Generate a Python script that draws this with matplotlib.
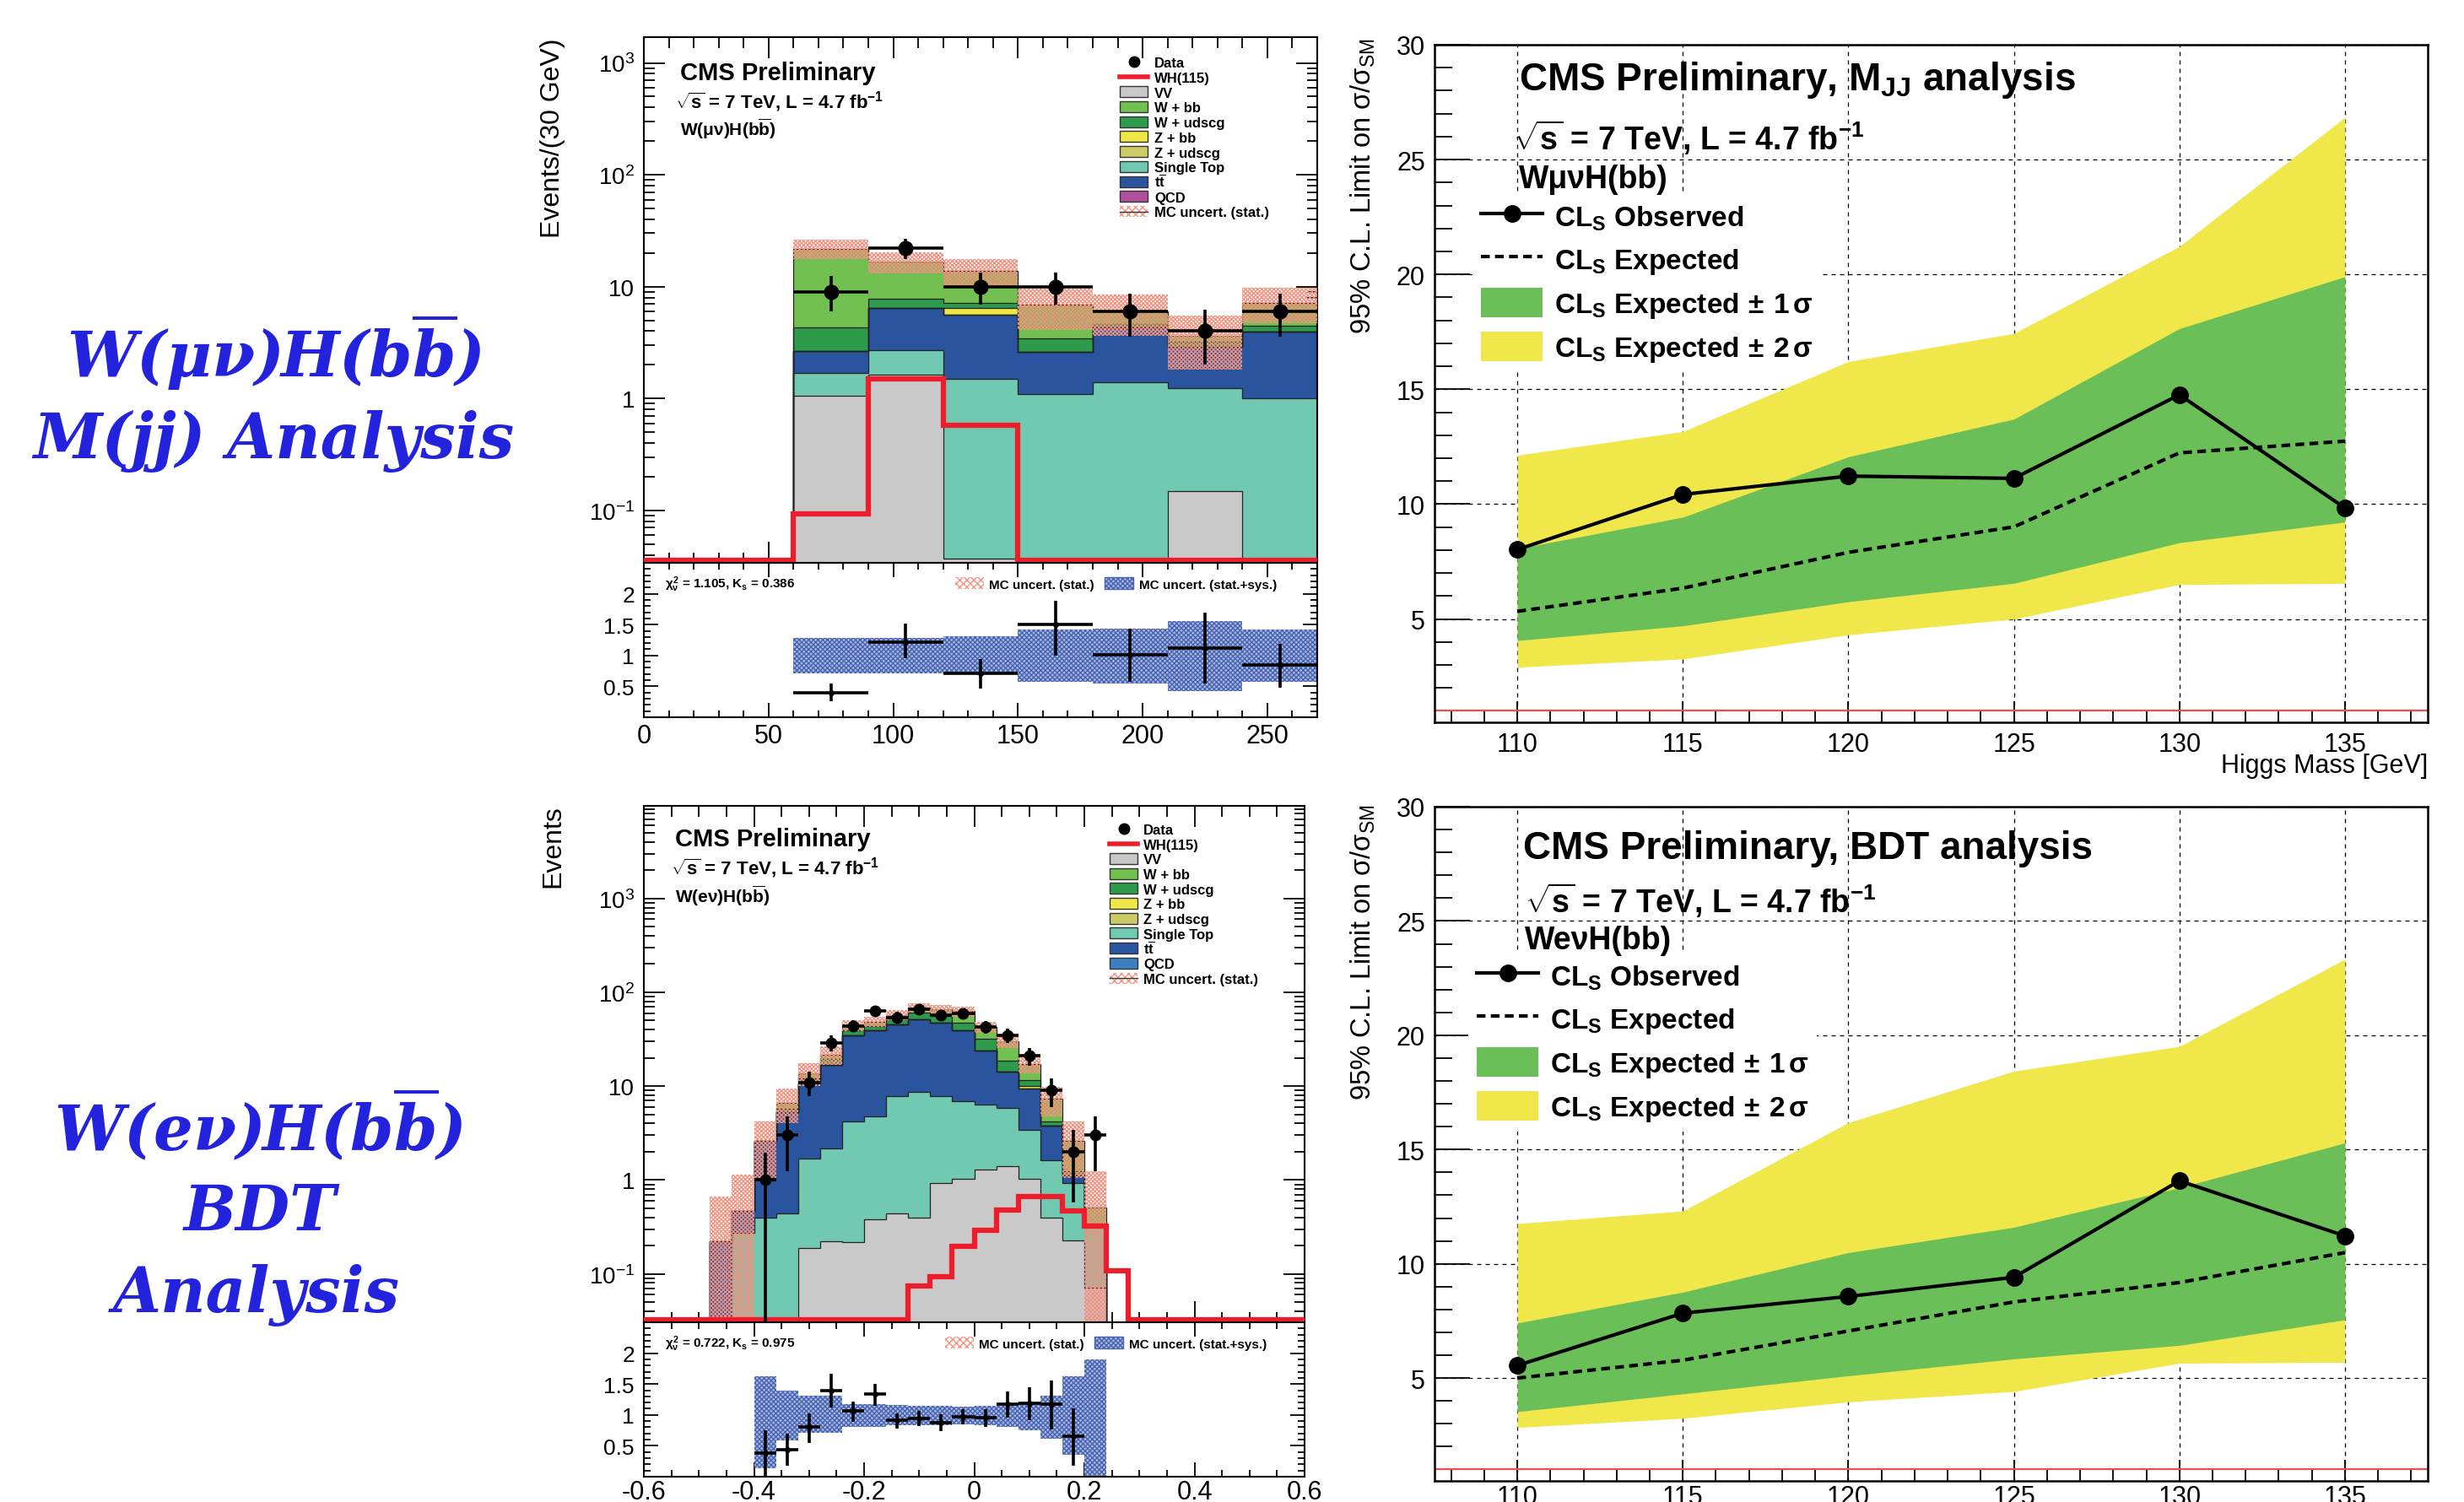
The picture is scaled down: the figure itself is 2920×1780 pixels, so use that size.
import numpy as np
import matplotlib
matplotlib.use("Agg")
import matplotlib.pyplot as plt
from matplotlib.patches import Patch, Rectangle
from matplotlib.lines import Line2D
from matplotlib.ticker import (FixedLocator, MultipleLocator, LogLocator,
                               NullFormatter, FuncFormatter)

# ======================= DATA =======================
# ---- top-left: W(mu nu)H(bb), M(jj) distribution ----
mjj_edges = [0, 30, 60, 90, 120, 150, 180, 210, 240, 270]
mjj_vv  = [0, 0, 1.06, 1.64, 0.037, 0.037, 0.0, 0.148, 0.0]
mjj_st  = [0, 0, 0.63, 1.07, 1.45, 1.06, 1.41, 1.10, 1.00]
mjj_tt  = [0, 0, 0.96, 3.72, 4.13, 1.51, 2.94, 1.67, 2.95]
mjj_qcd = [0, 0, 0, 0, 0, 0, 0, 0, 0]
mjj_zud = [0, 0, 0, 0, 0, 0, 0, 0, 0]
mjj_zbb = [0, 0, 0, 0, 0.80, 0, 0, 0, 0]
mjj_wud = [0, 0, 1.67, 1.32, 0.76, 0.86, 0.30, 0.30, 0.53]
mjj_wbb = [0, 0, 17.6, 8.95, 6.6, 3.43, 1.40, 0.44, 2.72]
mjj_wh  = [0, 0, 0.093, 1.49, 0.574, 0, 0, 0, 0]
mjj_mcstat_rel = [0, 0, 0.20, 0.22, 0.28, 0.40, 0.40, 0.50, 0.35]
mjj_data_x  = [75, 105, 135, 165, 195, 225, 255]
mjj_data    = [9, 22, 10, 10, 6, 4, 6]
mjj_data_lo = [3.0, 4.5, 3.1, 3.1, 2.4, 2.0, 2.4]
mjj_data_hi = [3.4, 4.7, 3.3, 3.3, 2.6, 2.2, 2.6]
mjj_halfwidth = 15
mjj_ratio    = [0.40, 1.22, 0.71, 1.50, 1.01, 1.125, 0.85]
mjj_ratio_lo = [0.14, 0.27, 0.25, 0.50, 0.44, 0.585, 0.37]
mjj_ratio_hi = [0.15, 0.30, 0.23, 0.39, 0.42, 0.565, 0.34]
mjj_band_edges = [60, 90, 120, 150, 180, 210, 240, 270]
mjj_band_up = [1.28, 1.28, 1.31, 1.42, 1.43, 1.56, 1.42]
mjj_band_dn = [0.71, 0.71, 0.71, 0.57, 0.55, 0.43, 0.57]
mjj_xticks = [0, 50, 100, 150, 200, 250]

# ---- bottom-left: W(e nu)H(bb), BDT distribution (30 bins of 0.04) ----
bdt_edges = [-0.60, -0.56, -0.52, -0.48, -0.44, -0.40, -0.36, -0.32, -0.28,
             -0.24, -0.20, -0.16, -0.12, -0.08, -0.04, 0.00, 0.04, 0.08,
             0.12, 0.16, 0.20, 0.24, 0.28, 0.32, 0.36, 0.40, 0.44, 0.48,
             0.52, 0.56, 0.60]
bdt_vv  = [0, 0, 0, 0, 0, 0, 0, 0.188, 0.222, 0.217, 0.378, 0.44, 0.40, 0.935,
           1.03, 1.29, 1.40, 1.03, 0.395, 0.228, 0.071, 0, 0, 0, 0, 0, 0, 0, 0, 0]
bdt_st  = [0, 0, 0, 0, 0.275, 0.40, 0.44, 1.50, 1.96, 3.98, 4.39, 7.46, 8.2,
           6.97, 5.95, 5.11, 4.5, 2.37, 1.225, 0.707, 0.262, 0, 0, 0, 0, 0, 0, 0, 0, 0]
bdt_tt  = [0, 0, 0, 0.222, 0.193, 2.24, 4.84, 9.0, 14.7, 30.5, 34.6, 37.6, 43.3,
           39.6, 32.4, 17.8, 8.4, 6.0, 2.15, 0.195, 0, 0, 0, 0, 0, 0, 0, 0, 0, 0]
bdt_qcd = [0] * 30
bdt_zud = [0] * 30
bdt_zbb = [0, 0, 0, 0, 0, 0, 0, 0, 0, 0, 0, 0, 0, 0, 0, 0, 0, 0.6, 0, 0,
           0, 0, 0, 0, 0, 0, 0, 0, 0, 0]
bdt_wud = [0, 0, 0, 0, 0, 0, 0.42, 1.4, 2.4, 4.9, 4.3, 6.4, 8.3, 8.8, 8.1,
           7.7, 4.5, 1.6, 0.43, 0.10, 0, 0, 0, 0, 0, 0, 0, 0, 0, 0]
bdt_wbb = [0, 0, 0, 0, 0, 0, 1.0, 1.6, 2.5, 5.0, 5.2, 5.7, 8.2, 9.3, 15.3,
           11.0, 11.2, 5.6, 3.1, 1.41, 0.18, 0, 0, 0, 0, 0, 0, 0, 0, 0]
bdt_wh  = [0, 0, 0, 0, 0, 0, 0, 0, 0, 0, 0, 0, 0.075, 0.094, 0.196, 0.289,
           0.48, 0.67, 0.67, 0.468, 0.32, 0.108, 0, 0, 0, 0, 0, 0, 0, 0]
bdt_mcstat_rel = [0, 0, 0, 2.0, 1.45, 0.6, 0.4, 0.27, 0.22, 0.13, 0.12, 0.12,
                  0.12, 0.12, 0.12, 0.13, 0.15, 0.2, 0.35, 0.6, 1.4, 0, 0, 0,
                  0, 0, 0, 0, 0, 0]
bdt_data_x  = [-0.38, -0.34, -0.30, -0.26, -0.22, -0.18, -0.14, -0.10, -0.06,
               -0.02, 0.02, 0.06, 0.10, 0.14, 0.18, 0.22]
bdt_data    = [1, 3, 11, 29, 44, 64, 54, 66, 57, 60, 43, 35, 21, 9, 2, 3]
bdt_data_lo = [1.0, 1.77, 3.2, 5.3, 6.6, 8.0, 7.3, 8.1, 7.5, 7.7, 6.5, 5.9, 4.5, 3.0, 1.42, 1.77]
bdt_data_hi = [0.97, 1.77, 3.4, 5.5, 6.8, 8.2, 7.5, 8.3, 7.7, 7.9, 6.7, 6.1, 4.7, 3.1, 1.4, 1.77]
bdt_halfwidth = 0.02
bdt_ratio_x  = [-0.38, -0.34, -0.30, -0.26, -0.22, -0.18, -0.14, -0.10, -0.06,
                -0.02, 0.02, 0.06, 0.10, 0.14, 0.18]
bdt_ratio    = [0.38, 0.44, 0.80, 1.39, 1.06, 1.34, 0.92, 0.94, 0.87, 0.97, 0.95,
                1.17, 1.19, 1.17, 0.65]
bdt_ratio_lo = [0.38, 0.26, 0.26, 0.27, 0.17, 0.19, 0.14, 0.12, 0.13, 0.12, 0.14,
                0.22, 0.28, 0.40, 0.47]
bdt_ratio_hi = [0.37, 0.25, 0.22, 0.27, 0.16, 0.16, 0.11, 0.12, 0.14, 0.12, 0.14,
                0.21, 0.26, 0.39, 0.45]
bdt_band_edges = [-0.40, -0.36, -0.32, -0.28, -0.24, -0.20, -0.16, -0.12, -0.08,
                  -0.04, 0.00, 0.04, 0.08, 0.12, 0.16, 0.20, 0.24]
bdt_band_up = [1.63, 1.40, 1.31, 1.31, 1.17, 1.17, 1.16, 1.15, 1.15, 1.14, 1.15,
               1.18, 1.22, 1.31, 1.63, 1.90]
bdt_band_dn = [0.13, 0.59, 0.71, 0.71, 0.80, 0.80, 0.83, 0.84, 0.84, 0.85, 0.84,
               0.80, 0.75, 0.62, 0.36, 0.0]
bdt_xticks = [-0.6, -0.4, -0.2, 0.0, 0.2, 0.4, 0.6]
bdt_xticklabels = ["-0.6", "-0.4", "-0.2", "0", "0.2", "0.4", "0.6"]

# ---- limits ----
higgs_mass = [110, 115, 120, 125, 130, 135]
mjj_obs = [8.02, 10.42, 11.22, 11.12, 14.76, 9.83]
mjj_exp = [5.33, 6.34, 7.90, 9.01, 12.23, 12.74]
mjj_p1  = [8.06, 9.43, 12.06, 13.70, 17.64, 19.90]
mjj_m1  = [4.06, 4.70, 5.75, 6.55, 8.32, 9.22]
mjj_p2  = [12.13, 13.16, 16.21, 17.43, 21.22, 26.84]
mjj_m2  = [2.90, 3.26, 4.31, 5.00, 6.50, 6.55]
bdt_obs = [5.55, 7.84, 8.57, 9.41, 13.63, 11.22]
bdt_exp = [5.00, 5.78, 7.06, 8.33, 9.18, 10.49]
bdt_p1  = [7.41, 8.76, 10.49, 11.60, 13.33, 15.29]
bdt_m1  = [3.53, 4.31, 5.10, 5.84, 6.43, 7.55]
bdt_p2  = [11.76, 12.31, 16.18, 18.43, 19.51, 23.33]
bdt_m2  = [2.84, 3.24, 3.96, 4.41, 5.65, 5.69]
sm_reference = 1.0

stack_labels = ["Data", "WH(115)", "VV", "W + bb", "W + udscg", "Z + bb",
                "Z + udscg", "Single Top", r"t$\overline{\mathrm{t}}$", "QCD",
                "MC uncert. (stat.)"]
limit_labels = [r"CL$_{\mathrm{S}}$ Observed", r"CL$_{\mathrm{S}}$ Expected",
                r"CL$_{\mathrm{S}}$ Expected$\,\pm\,$1$\,\sigma$",
                r"CL$_{\mathrm{S}}$ Expected$\,\pm\,$2$\,\sigma$"]

# ======================= STYLE =======================
plt.rcParams['font.family'] = ['Liberation Sans', 'DejaVu Sans']
plt.rcParams['mathtext.fontset'] = 'custom'
plt.rcParams['mathtext.rm'] = 'Liberation Sans:bold'
plt.rcParams['mathtext.bf'] = 'Liberation Sans:bold'
plt.rcParams['mathtext.it'] = 'Liberation Sans:bold'
plt.rcParams['mathtext.tt'] = 'Liberation Sans'
plt.rcParams['mathtext.sf'] = 'DejaVu Serif:italic:bold'
plt.rcParams['hatch.linewidth'] = 1.0

C_VV, C_WBB, C_WUD = '#c9c9c9', '#72bf52', '#2e9a4c'
C_ZBB, C_ZUD, C_ST = '#eee746', '#cccc66', '#70c9b0'
C_TT, C_QCD1, C_QCD2 = '#2a559e', '#b04fa0', '#3d80c0'
C_WH, C_HATCH = '#ee1d2b', '#f2917f'
C_BAND_FACE, C_BAND_HATCH = '#a9b9e3', '#4763b0'
C_GREEN, C_YELLOW = '#6bbf59', '#f0e74a'
BLUE = '#2323dd'

W, H, DPI = 2920, 1781, 100
fig = plt.figure(figsize=(W / DPI, H / DPI), dpi=DPI)
fig.patch.set_facecolor('white')


def rect(l, t, r, b):
    return [l / W, 1 - b / H, (r - l) / W, (b - t) / H]


def fx(x):
    return x / W


def fy(y):
    return 1 - y / H


log_labels = {0.1: r'10$^{\mathtt{-1}}$', 1: '1', 10: '10',
              100: r'10$^{\mathtt{2}}$', 1000: r'10$^{\mathtt{3}}$'}


def style_hist_axes(ax, ylim, xlim, xmaj, xmin):
    ax.set_yscale('log')
    ax.set_ylim(*ylim)
    ax.set_xlim(*xlim)
    ax.yaxis.set_major_locator(FixedLocator([0.1, 1, 10, 100, 1000]))
    ax.yaxis.set_major_formatter(FuncFormatter(
        lambda v, p: min(log_labels.items(), key=lambda kv: abs(np.log10(kv[0]) - np.log10(v)))[1]))
    ax.yaxis.set_minor_locator(LogLocator(base=10, subs=np.arange(2, 10), numticks=30))
    ax.yaxis.set_minor_formatter(NullFormatter())
    ax.xaxis.set_major_locator(xmaj)
    ax.xaxis.set_minor_locator(xmin)
    ax.tick_params(which='both', direction='in', top=True, right=True, width=1.3,
                   labelbottom=False, labelsize=20, pad=8)
    ax.tick_params(which='major', length=18)
    ax.tick_params(which='minor', length=9)
    for s in ax.spines.values():
        s.set_linewidth(1.5)


def draw_stack(ax, edges, comps, colors, wh, rel, dx, dy, dlo, dhi, halfw, floor, ms):
    edges = np.asarray(edges, float)
    nb = len(edges) - 1
    low = floor * 0.3
    cum = np.zeros(nb)
    for vals, col in zip(comps, colors):
        new = cum + np.asarray(vals, float)
        ax.stairs(np.maximum(new, low), edges, baseline=np.maximum(cum, low),
                  fill=True, facecolor=col, edgecolor='none', lw=0, zorder=2)
        cum = new
    cum = np.zeros(nb)
    for vals in comps:
        cum = cum + np.asarray(vals, float)
        ax.stairs(np.maximum(cum, low), edges, baseline=None, color='#222222',
                  lw=0.9, zorder=3)
    total = cum
    relv = np.asarray(rel, float)
    ax.stairs(np.maximum(total * (1 + relv), low), edges,
              baseline=np.maximum(total * (1 - relv), low), fill=True,
              facecolor='none', edgecolor=C_HATCH, hatch='xxxxxxx', lw=0, zorder=4)
    whv = np.asarray(wh, float)
    ax.stairs(np.where(whv > 0, whv, floor * 1.06), edges, baseline=None,
              color=C_WH, lw=4.5, zorder=5, clip_on=False)
    ax.errorbar(dx, dy, xerr=halfw, yerr=[dlo, dhi], fmt='o', color='k',
                ms=ms, elinewidth=2.6, capsize=0, zorder=6)


def style_ratio_axes(ax, xlim, xmin, xt, xtl):
    ax.set_ylim(0, 2.5)
    ax.set_xlim(*xlim)
    ax.yaxis.set_major_locator(FixedLocator([0.5, 1, 1.5, 2]))
    ax.yaxis.set_major_formatter(FuncFormatter(lambda v, p: '%g' % v))
    ax.yaxis.set_minor_locator(MultipleLocator(0.1))
    ax.xaxis.set_major_locator(FixedLocator(xt))
    ax.xaxis.set_major_formatter(FuncFormatter(
        lambda v, p: xtl[int(np.argmin(np.abs(np.asarray(xt) - v)))]))
    ax.xaxis.set_minor_locator(xmin)
    ax.tick_params(which='both', direction='in', top=True, right=True, width=1.3)
    ax.tick_params(which='major', length=12)
    ax.tick_params(which='minor', length=6)
    ax.tick_params(axis='y', labelsize=19, pad=8)
    ax.tick_params(axis='x', labelsize=22, pad=5)
    for s in ax.spines.values():
        s.set_linewidth(1.5)


def draw_ratio(ax, bedges, up, dn, rx, ry, rlo, rhi, halfw):
    ax.stairs(up, bedges, baseline=dn, fill=True, facecolor=C_BAND_FACE,
              edgecolor=C_BAND_HATCH, hatch='xxxxxx', lw=0, zorder=2)
    ax.errorbar(rx, ry, xerr=halfw, yerr=[rlo, rhi], fmt='o', color='k', ms=4,
                elinewidth=2.6, capsize=0, zorder=6)


def hist_legend(x_box, y_first, dy, x_text, qcd_color, fs=12):
    """Legend drawn entry by entry at fixed pixel spacing (ROOT TLegend style)."""
    bw, bh = 33, 13
    fs_px = fs * DPI / 72.0
    fills = [None, None, C_VV, C_WBB, C_WUD, C_ZBB, C_ZUD, C_ST, C_TT, qcd_color, None]
    for i, lab in enumerate(stack_labels):
        yc = y_first + i * dy
        if i == 0:
            fig.add_artist(Line2D([fx(x_box + bw / 2)], [fy(yc)], marker='o', ms=9,
                                  color='k', transform=fig.transFigure))
        elif i == 1:
            fig.add_artist(Line2D([fx(x_box), fx(x_box + bw)], [fy(yc), fy(yc)],
                                  color=C_WH, lw=4, transform=fig.transFigure))
        elif i == len(stack_labels) - 1:
            fig.add_artist(Rectangle((fx(x_box), fy(yc + bh / 2)), bw / W, bh / H,
                                     facecolor='none', edgecolor=C_HATCH, hatch='xxxx',
                                     lw=0, transform=fig.transFigure))
            fig.add_artist(Line2D([fx(x_box), fx(x_box + bw)], [fy(yc), fy(yc)],
                                  color='#333333', lw=1, transform=fig.transFigure))
        else:
            fig.add_artist(Rectangle((fx(x_box), fy(yc + bh / 2)), bw / W, bh / H,
                                     facecolor=fills[i], edgecolor='#333333', lw=1,
                                     transform=fig.transFigure))
        fig.text(fx(x_text), fy(yc + 0.36 * fs_px), lab, fontsize=fs,
                 fontweight='bold', va='baseline')


def ratio_legend(x, y):
    handles = [Patch(facecolor='white', edgecolor=C_HATCH, hatch='xxxx', lw=0),
               Patch(facecolor=C_BAND_FACE, edgecolor=C_BAND_HATCH, hatch='xxxxxx', lw=1)]
    fig.legend(handles, ['MC uncert. (stat.)', 'MC uncert. (stat.+sys.)'], ncol=2,
               loc='center left', bbox_to_anchor=(fx(x), fy(y)), frameon=False,
               prop={'weight': 'bold', 'size': 11}, handlelength=2.2,
               handleheight=1.0, handletextpad=0.45, columnspacing=0.8,
               borderpad=0, borderaxespad=0)


# ======================= TOP-LEFT =======================
ax1 = fig.add_axes(rect(763, 45, 1561, 668))
style_hist_axes(ax1, (0.034, 1700), (0, 270), MultipleLocator(50), MultipleLocator(10))
draw_stack(ax1, mjj_edges,
           [mjj_vv, mjj_st, mjj_tt, mjj_qcd, mjj_zud, mjj_zbb, mjj_wud, mjj_wbb],
           [C_VV, C_ST, C_TT, C_QCD1, C_ZUD, C_ZBB, C_WUD, C_WBB],
           mjj_wh, mjj_mcstat_rel, mjj_data_x, mjj_data, mjj_data_lo, mjj_data_hi,
           mjj_halfwidth, 0.034, 12)
ax1r = fig.add_axes(rect(763, 668, 1561, 851))
style_ratio_axes(ax1r, (0, 270), MultipleLocator(10), mjj_xticks,
                 [str(v) for v in mjj_xticks])
draw_ratio(ax1r, mjj_band_edges, mjj_band_up, mjj_band_dn, mjj_data_x, mjj_ratio,
           mjj_ratio_lo, mjj_ratio_hi, mjj_halfwidth)

fig.text(fx(806), fy(95), 'CMS Preliminary', fontsize=21, fontweight='bold', va='baseline')
fig.text(fx(800), fy(128), r'$\sqrt{\mathrm{s}}$ = 7 TeV, L = 4.7 fb$^{\mathrm{-1}}$',
         fontsize=16, fontweight='bold', va='baseline')
fig.text(fx(806), fy(161), r'W(μν)H(b$\overline{\mathrm{b}}$)', fontsize=15,
         fontweight='bold', va='baseline')
fig.text(fx(655), fy(46), 'Events/(30 GeV)', rotation=90, ha='center', va='top', fontsize=23)
hist_legend(1327, 74, 17.75, 1368, C_QCD1)
fig.text(fx(788), fy(697), r'$\chi^{2}_{\nu}$ = 1.105, K$_{\mathrm{s}}$ = 0.386',
         fontsize=11, fontweight='bold', va='baseline')
ratio_legend(1132, 693)

# ======================= BOTTOM-LEFT =======================
ax2 = fig.add_axes(rect(763, 956, 1546, 1568))
style_hist_axes(ax2, (0.0305, 9700), (-0.6, 0.6), FixedLocator(bdt_xticks), MultipleLocator(0.05))
draw_stack(ax2, bdt_edges,
           [bdt_vv, bdt_st, bdt_tt, bdt_qcd, bdt_zud, bdt_zbb, bdt_wud, bdt_wbb],
           [C_VV, C_ST, C_TT, C_QCD2, C_ZUD, C_ZBB, C_WUD, C_WBB],
           bdt_wh, bdt_mcstat_rel, bdt_data_x, bdt_data, bdt_data_lo, bdt_data_hi,
           bdt_halfwidth, 0.0305, 9)
ax2r = fig.add_axes(rect(763, 1568, 1546, 1751))
style_ratio_axes(ax2r, (-0.6, 0.6), MultipleLocator(0.05), bdt_xticks, bdt_xticklabels)
ax2r.tick_params(axis='x', pad=2)
draw_ratio(ax2r, bdt_band_edges, bdt_band_up, bdt_band_dn, bdt_ratio_x, bdt_ratio,
           bdt_ratio_lo, bdt_ratio_hi, bdt_halfwidth)

fig.text(fx(800), fy(1003), 'CMS Preliminary', fontsize=21, fontweight='bold', va='baseline')
fig.text(fx(795), fy(1036), r'$\sqrt{\mathrm{s}}$ = 7 TeV, L = 4.7 fb$^{\mathrm{-1}}$',
         fontsize=16, fontweight='bold', va='baseline')
fig.text(fx(800), fy(1070), r'W(eν)H(b$\overline{\mathrm{b}}$)', fontsize=15,
         fontweight='bold', va='baseline')
fig.text(fx(655), fy(954), 'Events', rotation=90, ha='center', va='top', fontsize=23)
hist_legend(1315, 983, 17.7, 1355, C_QCD2)
fig.text(fx(788), fy(1597), r'$\chi^{2}_{\nu}$ = 0.722, K$_{\mathrm{s}}$ = 0.975',
         fontsize=11, fontweight='bold', va='baseline')
ratio_legend(1120, 1593)


# ======================= LIMIT PLOTS =======================
def limit_panel(box, obs, exp, p1, m1, p2, m2, xpad):
    ax = fig.add_axes(rect(*box))
    ax.set_xlim(107.5, 137.5)
    ax.set_ylim(0.5, 30)
    ax.set_axisbelow(True)
    ax.grid(True, which='major', color='k', ls=(0, (4, 4)), lw=0.9)
    ax.fill_between(higgs_mass, m2, p2, color=C_YELLOW, lw=0, zorder=1)
    ax.fill_between(higgs_mass, m1, p1, color=C_GREEN, lw=0, zorder=1.1)
    ax.axhline(sm_reference, color='#e65050', lw=1.6, zorder=2)
    ax.plot(higgs_mass, exp, color='k', lw=3, ls=(0, (2.5, 1.5)), zorder=3)
    ax.plot(higgs_mass, obs, color='k', lw=3, marker='o', ms=14, zorder=4)
    ax.xaxis.set_major_locator(MultipleLocator(5))
    ax.xaxis.set_minor_locator(MultipleLocator(1))
    ax.yaxis.set_major_locator(MultipleLocator(5))
    ax.yaxis.set_minor_locator(MultipleLocator(1))
    ax.tick_params(which='both', direction='in', top=False, right=False, width=1.3,
                   labelsize=22)
    ax.tick_params(axis='y', which='major', length=30, pad=8)
    ax.tick_params(axis='y', which='minor', length=15)
    ax.tick_params(axis='x', which='major', length=18, pad=xpad)
    ax.tick_params(axis='x', which='minor', length=10)
    for s in ax.spines.values():
        s.set_linewidth(1.8)
    return ax


def limit_legend(x, y):
    handles = [Line2D([], [], color='k', lw=3, marker='o', ms=14),
               Line2D([], [], color='k', lw=3, ls=(0, (2.5, 1.5))),
               Patch(facecolor=C_GREEN, edgecolor='none'),
               Patch(facecolor=C_YELLOW, edgecolor='none')]
    leg = fig.legend(handles, limit_labels, loc='upper left',
                     bbox_to_anchor=(fx(x), fy(y)), frameon=True, facecolor='white',
                     edgecolor='white', framealpha=1, fancybox=False,
                     prop={'weight': 'bold', 'size': 24}, handlelength=2.2,
                     handleheight=1.25, labelspacing=0.42, handletextpad=0.4,
                     borderpad=0.3, borderaxespad=0)
    leg.get_frame().set_linewidth(0)
    leg.set_zorder(2)


ax3 = limit_panel((1700, 54, 2877, 857), mjj_obs, mjj_exp, mjj_p1, mjj_m1, mjj_p2, mjj_m2, 8)
fig.text(fx(1800), fy(107), r'CMS Preliminary, M$_{\mathrm{JJ}}$ analysis', fontsize=33,
         fontweight='bold', va='baseline')
fig.text(fx(1793), fy(178), r'$\sqrt{\mathrm{s}}$ = 7 TeV, L = 4.7 fb$^{\mathrm{-1}}$',
         fontsize=27, fontweight='bold', va='baseline')
fig.text(fx(1800), fy(223), 'WμνH(bb)', fontsize=27, fontweight='bold', va='baseline')
limit_legend(1745, 230)
fig.text(fx(1615), fy(45), r'95% C.L. Limit on σ/σ$_{\mathtt{SM}}$', rotation=90,
         ha='center', va='top', fontsize=23.5)
fig.text(fx(2877), fy(908), 'Higgs Mass [GeV]', ha='right', va='center', fontsize=22)

ax4 = limit_panel((1700, 957, 2877, 1756), bdt_obs, bdt_exp, bdt_p1, bdt_m1, bdt_p2, bdt_m2, 3)
fig.text(fx(1805), fy(1018), 'CMS Preliminary, BDT analysis', fontsize=33,
         fontweight='bold', va='baseline')
fig.text(fx(1807), fy(1082), r'$\sqrt{\mathrm{s}}$ = 7 TeV, L = 4.7 fb$^{\mathrm{-1}}$',
         fontsize=27, fontweight='bold', va='baseline')
fig.text(fx(1807), fy(1125), 'WeνH(bb)', fontsize=27, fontweight='bold', va='baseline')
limit_legend(1740, 1130)
fig.text(fx(1615), fy(953), r'95% C.L. Limit on σ/σ$_{\mathtt{SM}}$', rotation=90,
         ha='center', va='top', fontsize=23.5)

# ======================= LEFT BLUE LABELS =======================
serif_bi = dict(family='DejaVu Serif', style='italic', weight='bold')
fig.text(fx(325), fy(447), r'$\mathsf{W(\mu\nu)H(b\overline{b})}$', ha='center',
         va='baseline', fontsize=53, color=BLUE)
fig.text(fx(324), fy(543), 'M(jj) Analysis', ha='center', va='baseline', fontsize=53,
         color=BLUE, **serif_bi)
fig.text(fx(307), fy(1363), r'$\mathsf{W(e\nu)H(b\overline{b})}$', ha='center',
         va='baseline', fontsize=53, color=BLUE)
fig.text(fx(308), fy(1458), 'BDT', ha='center', va='baseline', fontsize=53,
         color=BLUE, **serif_bi)
fig.text(fx(304), fy(1555), 'Analysis', ha='center', va='baseline', fontsize=53,
         color=BLUE, **serif_bi)

fig.savefig('out.png', dpi=DPI, facecolor='white')
